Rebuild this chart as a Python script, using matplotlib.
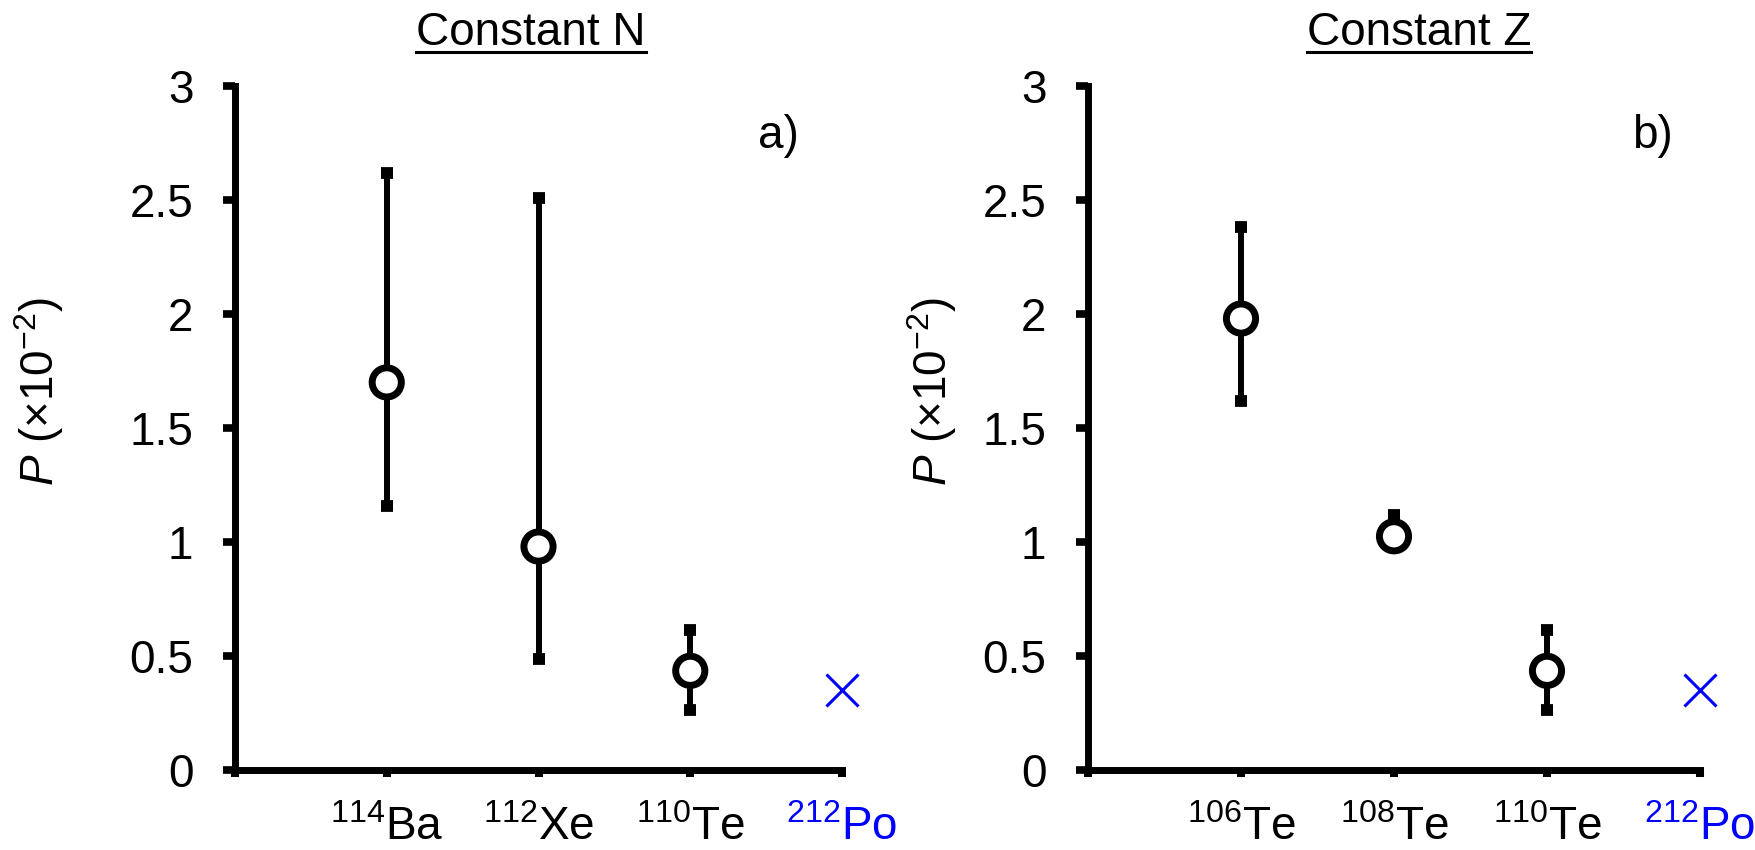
import matplotlib
matplotlib.use("Agg")
import matplotlib.pyplot as plt
import matplotlib.patheffects as pe
from matplotlib.lines import Line2D
from matplotlib.ticker import FuncFormatter

plt.rcParams["font.family"] = ["Liberation Sans", "DejaVu Sans"]
plt.rcParams["mathtext.fontset"] = "custom"
plt.rcParams["mathtext.rm"] = "Liberation Sans"
plt.rcParams["mathtext.it"] = "Liberation Sans:italic"

# data
left_labels = [r"$^{114}$Ba", r"$^{112}$Xe", r"$^{110}$Te"]
left_vals = [1.70, 0.98, 0.435]
left_hi = [2.62, 2.51, 0.615]
left_lo = [1.16, 0.485, 0.265]

right_labels = [r"$^{106}$Te", r"$^{108}$Te", r"$^{110}$Te"]
right_vals = [1.98, 1.025, 0.435]
right_hi = [2.38, 1.12, 0.615]
right_lo = [1.62, 0.98, 0.265]

po_label = r"$^{212}$Po"
po_val = 0.35

yticks = [0, 0.5, 1, 1.5, 2, 2.5, 3]

fig = plt.figure(figsize=(17.55, 8.5), dpi=100)
W, H = 1755, 850
ax1 = fig.add_axes([235 / W, 80 / H, 607 / W, 684 / H])
ax2 = fig.add_axes([1088 / W, 80 / H, 612 / W, 684 / H])

FS = 33


def panel(ax, labels, vals, hi, lo, tag, tag_x):
    x = list(range(1, len(vals) + 1))
    err = [[v - l for v, l in zip(vals, lo)], [h - v for v, h in zip(vals, hi)]]
    ax.errorbar(x, vals, yerr=err, fmt="none", ecolor="black", elinewidth=4.3,
                capsize=4.5, capthick=8.5, zorder=2)
    ax.plot(x, vals, "o", ms=21, mew=5, mfc="white", mec="black", zorder=3,
            path_effects=[pe.SimplePatchShadow(offset=(2, -2), alpha=0.35),
                          pe.Normal()])
    ax.plot([len(vals) + 1], [po_val], "x", ms=23, mew=2.2, color="#0000ff",
            zorder=3, clip_on=False)

    ax.set_xlim(0, 4)
    ax.set_ylim(0, 3)
    ax.set_xticks([0, 1, 2, 3, 4])
    ax.set_xticklabels([""] + labels + [po_label])
    ax.get_xticklabels()[-1].set_color("#0000ff")
    ax.set_yticks(yticks)
    ax.yaxis.set_major_formatter(FuncFormatter(lambda v, p: "%g" % v))

    for s in ["top", "right"]:
        ax.spines[s].set_visible(False)
    for s in ["left", "bottom"]:
        ax.spines[s].set_linewidth(5)
        ax.spines[s].set_capstyle("projecting")
    ax.tick_params(axis="y", direction="out", length=9, width=5.5,
                   pad=21, labelsize=FS)
    ax.tick_params(axis="x", direction="out", length=5, width=5.8,
                   pad=21, labelsize=FS)
    ax.patch.set_visible(False)
    ax.text(tag_x, 2.78, tag, fontsize=FS, ha="center", va="center")


panel(ax1, left_labels, left_vals, left_hi, left_lo, "a)", 3.58)
panel(ax2, right_labels, right_vals, right_hi, right_lo, "b)", 3.69)

ylab = r"$P$ (×10$^{-2}$)"
fig.text(39 / W, 1 - 391 / H, ylab, rotation=90, fontsize=FS,
         ha="center", va="center")
fig.text(932 / W, 1 - 391 / H, ylab, rotation=90, fontsize=FS,
         ha="center", va="center")

t1 = fig.text(531 / W, 1 - 45 / H, "Constant N", fontsize=FS,
              ha="center", va="baseline")
t2 = fig.text(1419 / W, 1 - 45 / H, "Constant Z", fontsize=FS,
              ha="center", va="baseline")

# underline the titles
fig.canvas.draw()
r = fig.canvas.get_renderer()
for t in (t1, t2):
    bb = t.get_window_extent(r)
    yy = (H - 52) / H
    fig.add_artist(Line2D([bb.x0 / W, bb.x1 / W], [yy, yy], color="black",
                          lw=2.2, transform=fig.transFigure))

fig.savefig("out.png", dpi=100)
